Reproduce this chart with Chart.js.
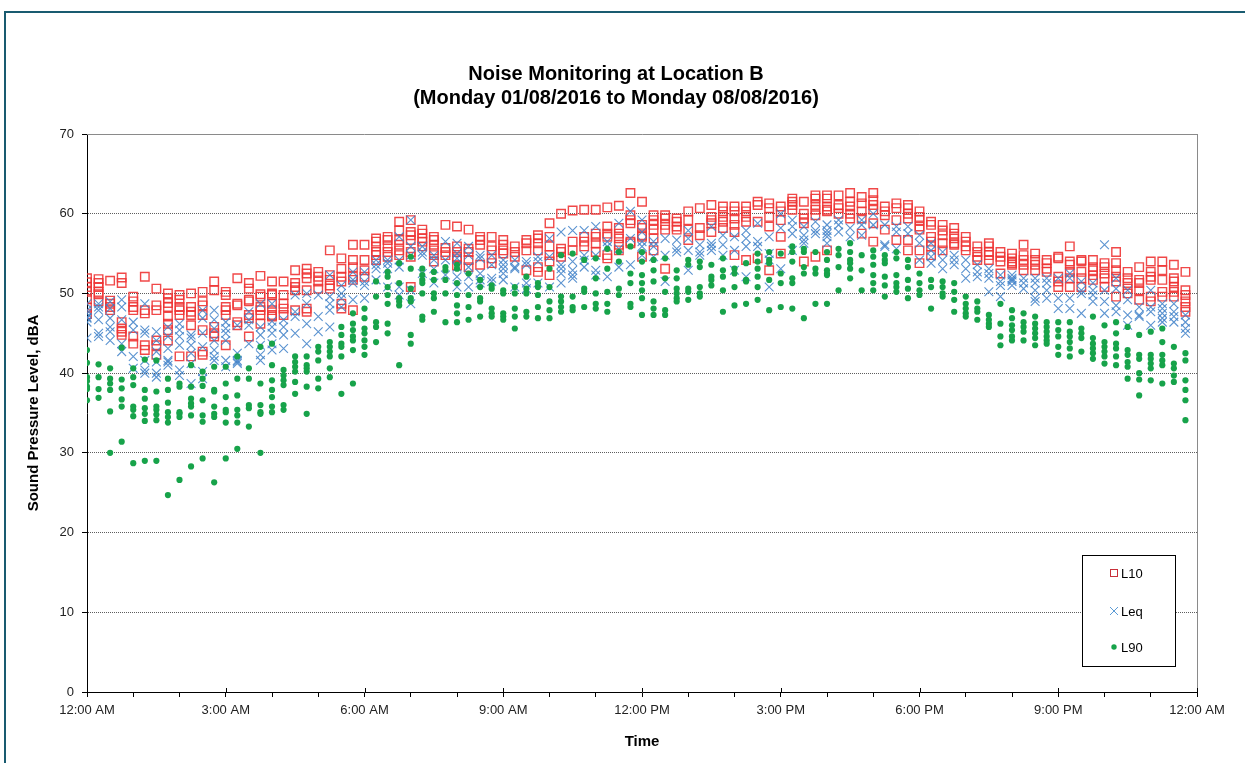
<!DOCTYPE html>
<html>
<head>
<meta charset="utf-8">
<script src="https://cdn.jsdelivr.net/npm/chart.js@4.4.1/dist/chart.umd.min.js"></script>
<style>
html,body{margin:0;padding:0;background:#fff;}
#wrap{position:relative;width:1245px;height:763px;overflow:hidden;background:#fff;}
#c{position:absolute;left:0;top:0;}
#frame{position:absolute;left:4px;top:11px;width:1400px;height:900px;border-top:2px solid #195b70;border-left:2px solid #195b70;pointer-events:none;}
</style>
</head>
<body>
<div id="wrap"><canvas id="c" width="1245" height="763"></canvas><div id="frame"></div></div>
<script>
// ---- data: one list of readings (one per day) for each 15-minute slot, 00:00 .. 23:45 ----
const titleLines = ['Noise Monitoring at Location B', '(Monday 01/08/2016 to Monday 08/08/2016)'];
const seriesNames = ['L10', 'Leq', 'L90'];
const slotHours = 0.25;
const hourTicks = [0,1,2,3,4,5,6,7,8,9,10,11,12,13,14,15,16,17,18,19,20,21,22,23,24];
const labelledHours = [0, 3, 6, 9, 12, 15, 18, 21, 24];
const timeLabels = ['12:00 AM','3:00 AM','6:00 AM','9:00 AM','12:00 PM','3:00 PM','6:00 PM','9:00 PM','12:00 AM'];
const yTicks = [0, 10, 20, 30, 40, 50, 60, 70];

const L10 = [
[51.9,51.4,50.8,50.2,49.3,48.2,47.4],[51.8,51.3,50.8,50.2,49.9,49.0],[51.6,49.1,48.7,48.3,47.9],[52.0,51.3,46.4,45.6,45.2,44.8],
[49.6,49.0,48.3,47.9,44.6,43.7],[52.1,47.9,47.5,43.5,42.9],[50.6,48.5,47.9,44.1,43.5,42.3],[50.0,49.4,48.8,48.3,47.1,46.2,45.4,44.1],
[49.8,49.2,48.3,47.9,47.3,42.1],[50.0,48.3,47.7,47.3,46.0,42.1],[50.2,49.0,48.5,47.3,45.4,42.7,42.3],[51.5,50.4,45.8,45.0,44.6],
[50.2,49.8,48.3,47.9,47.3,43.5],[51.9,48.7,48.5,46.4,46.0],[51.3,50.6,49.2,49.0,47.3,46.9,44.6],[52.2,49.9,49.6,48.3,47.9,47.3,46.2],
[51.5,50.0,49.8,48.7,47.9,47.3,47.1],[51.5,49.8,48.7,48.1,47.3],[52.9,51.3,50.8,50.4,47.9],[53.1,52.5,51.9,50.4,48.1,47.7],
[52.7,52.1,51.5,50.6],[55.4,52.3,51.7,51.0,50.6],[54.4,53.1,52.1,51.5,48.7,48.1],[56.1,54.2,53.3,52.1,51.7,47.9],
[56.1,54.2,52.9,52.1],[56.9,56.5,55.9,55.2,54.8,54.2],[57.1,56.7,55.9,55.2,54.6],[59.0,57.9,56.7,56.1,55.4,54.8],
[59.2,57.7,57.3,56.7,55.2,54.6,50.8],[58.0,57.5,56.9,56.5,55.9],[57.1,56.7,56.1,55.4,54.8,54.0],[58.6,55.7,55.2,54.8],
[58.4,55.9,55.2,54.6,54.4,53.5],[58.0,55.6,55.2,54.2,53.3],[57.1,56.7,56.1,53.6],[57.1,55.9,55.4,54.4,53.8],
[56.7,56.1,55.4,55.0],[55.9,55.2,54.6],[56.7,56.3,55.4,52.9],[57.3,56.9,56.3,55.4,53.3,52.7],
[58.8,57.1,55.9,54.8,54.0,52.3],[60.0,55.6,55.2,54.6],[60.4,56.5,55.4],[60.5,57.1,56.5,55.9],
[60.5,57.5,57.1,56.3,55.2],[60.8,58.4,57.5,57.1,54.8,54.4],[61.0,58.2,57.5,56.9,56.1,55.4],[62.6,59.8,59.2,58.8,56.5,56.3],
[61.5,58.6,58.2,57.3,57.1,54.6],[59.8,59.2,58.6,58.0,56.9,55.4],[59.8,59.4,58.6,58.0,53.1],[59.4,59.0,58.4,58.0],
[60.3,59.2,58.0,56.7],[60.7,58.2,57.3],[61.1,59.6,59.2,58.8,57.7],[60.9,60.3,59.6,59.0,58.2],
[60.9,60.3,59.4,58.6,57.7,54.8],[60.9,60.3,59.6,59.0,54.2],[61.5,61.1,59.0,54.4],[61.3,60.7,59.6,58.4,52.9],
[60.9,60.3,59.2,57.1,55.0],[61.9,61.5,61.1,60.5],[61.5,60.0,59.4,58.8,54.0],[62.3,61.9,61.1,60.5,59.8,54.6],
[62.3,61.9,60.9,60.5,60.3,55.4],[62.3,61.1,60.7,60.0],[62.6,61.5,60.9,60.0,59.4],[62.1,61.3,60.3,59.4,57.5],
[62.6,61.7,61.1,60.5,58.8,56.5],[60.9,60.3,59.8,58.0],[61.3,60.7,59.2,56.7],[61.1,60.7,60.0,59.4,56.7,55.4],
[60.3,59.6,59.2,58.4,58.0,55.4,53.8],[59.0,58.6,57.1,56.5,55.9,54.8],[58.6,57.9,57.3,56.3,55.4],[58.2,57.5,56.9,56.3,56.1],
[57.1,56.5,55.9,55.4],[55.9,55.2,54.6,54.2],[56.3,55.9,55.2,54.8,54.2],[55.2,54.6,54.0,52.5],
[55.0,54.4,54.0,53.6,53.8],[56.1,54.8,54.2,53.6,52.9],[55.0,54.2,53.6,52.9],[54.2,53.8,53.1,52.7],
[54.6,54.4,52.1,51.5,50.8],[55.9,54.0,53.6,52.7,51.9,50.8],[54.2,54.0,52.7,51.9,50.8],[54.2,53.3,52.9,52.3,51.7],
[53.8,53.3,52.5,51.9,50.8],[55.2,53.8,52.9,52.1,51.5,49.6],[52.7,51.9,51.3,50.6,50.0],[53.3,51.7,51.3,50.4,49.2],
[54.0,52.7,52.1,51.7,49.6,49.0],[54.0,52.9,51.7,50.2,49.6],[53.6,51.9,51.5,50.8,50.2,49.6],[52.7,50.4,49.8,49.0,48.3,47.7]
];

const Leq = [
[48.7,47.9,47.5,47.0,46.9,46.4,44.4],[48.7,48.3,47.9,46.7,45.0,44.6],[49.0,48.1,46.9,45.8,45.2,44.1],[49.2,48.3,46.7,43.7,42.7],
[46.4,45.4,42.1,40.6],[48.7,45.4,45.0,41.6,40.4,40.0],[45.2,44.1,42.7,41.4,40.0,39.5],[45.8,44.6,43.1,41.6,41.4,41.0],
[46.2,45.4,44.6,43.5,40.4,39.7],[44.8,44.4,43.5,42.5,41.2,38.7],[47.9,46.9,45.0,43.3,40.2,39.3],[47.9,46.7,45.6,44.1,42.9,42.1,41.6],
[46.4,45.6,45.0,44.1,41.6,40.8],[46.0,42.5,41.6,41.4,41.2],[47.7,46.7,46.0,43.7],[48.7,45.8,44.8,43.5,42.3,41.6],
[48.7,46.5,45.8,45.0,43.7,42.9],[46.7,45.8,44.8,43.1],[49.8,47.7,47.1,45.0],[50.0,48.7,46.2,43.7],
[49.8,47.1,45.2],[52.3,49.6,48.7,47.9,45.8],[51.0,50.0,49.4,48.3],[52.7,51.7,51.3,49.2],
[52.7,51.5,51.0,49.4],[54.2,53.6,53.1,51.7],[54.2,53.8,53.1,50.8],[57.1,54.2,53.3,50.8,49.8],
[59.2,55.9,54.8,50.4,48.7],[55.9,55.2,54.8,52.5],[54.8,54.2,53.1,51.3],[56.5,54.2,52.3],
[56.3,55.0,54.4,53.3,52.1,50.8],[55.9,54.8,53.3,52.1,50.8],[54.8,54.4,52.5,51.7,51.3],[54.8,53.6,51.9,51.5],
[54.2,53.6,53.1,52.5,51.7],[54.2,53.3,53.1,50.8],[54.0,53.6,51.3,50.6],[54.6,54.0,51.3],
[56.9,54.6,50.8],[57.7,53.6,53.1,52.5,51.3],[57.9,54.0,52.9,52.3,51.9],[57.9,54.8,54.2,53.3],
[58.4,54.8,52.9,52.3],[56.5,55.9,52.1],[58.8,55.6,53.3],[60.3,56.9,53.6],
[59.2,57.7,56.5,55.9,54.8],[56.5,55.9,54.6],[56.9,54.8,51.5],[56.7,55.6,55.2],
[57.9,56.9,55.4,52.9],[56.1,55.2,54.8],[58.4,56.3,55.9,55.4],[57.3,56.1,54.8],
[57.1,55.4,52.9],[57.9,56.9,55.9,52.1],[58.8,56.5,55.9],[57.1,55.0,54.2,50.8],
[60.0,58.2,53.1],[59.2,58.4,57.5,55.4],[58.4,57.3,56.7,56.3],[59.0,57.9,57.5],
[58.6,57.9,57.5,57.1,56.3],[59.2,58.6,57.7],[58.2,57.1],[59.2,58.6,57.3],
[60.0,58.6],[58.6,56.1,55.9],[58.4,57.7,55.6],[58.4,57.5],
[57.3,56.3,54.2],[56.3,55.4,54.6,53.8],[55.2,54.2,53.1],[54.8,54.2,53.6],
[54.2,53.1,51.9],[53.6,52.7,52.1],[53.1,52.5,51.9,50.2],[52.3,51.5,51.0,49.6],
[52.3,51.9,51.7,51.5,51.0],[51.9,51.3,50.6],[51.9,51.3,50.4,49.4,49.0],[51.9,51.3,50.4,49.4],
[51.9,49.4,48.1],[52.5,51.9,49.4,48.1],[51.5,50.4,50.0,47.5],[51.3,50.4,49.8,49.0],
[56.1,50.4,49.0,47.5],[51.9,50.6,48.5,47.7],[50.4,49.2,47.3,46.0],[48.3,47.3,47.1],
[50.4,48.3,47.7,46.0],[48.7,48.1,47.5,46.9,46.4],[48.7,47.7,47.1,46.4],[47.3,46.4,45.6,45.0]
];

const L90 = [
[42.9,41.3,39.5,39.0,38.3,38.0,36.6],[41.1,39.5,38.0,36.9],[40.6,39.3,38.7,37.9,35.2,30.0],[43.2,39.2,38.1,36.7,35.8,31.4],
[40.6,39.5,38.5,35.8,35.4,34.6,28.7],[41.7,37.9,36.8,35.6,34.9,34.0,29.0],[41.6,37.7,35.8,35.4,34.8,34.1,29.0],[39.3,37.9,36.3,35.1,34.5,33.8,24.7],
[38.7,38.3,35.1,34.9,34.5,26.6],[41.0,38.3,36.8,36.2,35.8,34.7,28.3],[40.2,39.3,38.4,36.6,34.7,33.9,29.3],[40.8,37.9,37.7,35.8,34.9,34.5,26.3],
[40.8,38.7,37.0,35.4,35.1,33.8,29.3],[42.1,39.3,37.2,35.4,34.7,33.8,30.5],[40.6,39.3,36.0,35.6,33.3],[43.3,38.7,36.0,35.1,34.9,30.0],
[43.7,41.0,39.1,37.9,37.0,35.8,35.1],[40.4,39.7,39.1,38.5,36.0,35.4],[42.1,41.4,40.8,40.2,38.9,37.4],[42.1,41.0,40.6,40.2,38.3,34.9],
[43.3,42.7,41.6,39.3,38.1],[43.9,43.3,42.7,42.1,40.6,39.5],[45.8,44.8,43.7,43.3,42.1,37.4],[47.5,46.2,45.4,44.6,44.1,42.9,38.7],
[48.1,46.9,45.6,45.0,44.1,43.3,42.3],[51.5,49.6,46.4,45.8,43.9],[52.7,52.1,50.8,49.8,48.7,46.2,45.0],[53.8,51.3,49.4,49.0,48.5,41.0],
[54.6,53.1,50.6,49.4,49.0,44.8,43.7],[53.1,52.3,51.7,51.3,50.0,47.1,46.7],[52.7,51.7,50.0,49.4,47.7],[53.3,52.9,51.7,50.0,46.4],
[53.6,53.1,51.3,49.8,48.5,47.5,46.4],[52.5,49.8,48.3,46.7],[51.7,50.8,49.4,49.0,47.1],[51.0,50.6,48.1,47.5,47.1],
[50.4,50.0,47.5,47.1,46.7],[50.8,50.0,48.1,47.1,45.6],[52.1,50.6,50.0,47.7,47.1],[51.3,50.8,49.8,48.3,46.9],
[53.1,50.8,49.0,47.9,46.9],[54.8,49.6,49.0,48.3,47.7],[55.0,49.6,48.3,47.9],[54.2,50.6,50.2,48.3],
[54.4,51.9,50.0,48.7,48.1],[55.6,53.1,50.2,48.7,47.7],[55.2,54.0,50.6,49.8],[55.9,52.5,51.3,48.7,48.3],
[55.2,54.0,52.3,51.3,50.4,49.4,47.3],[54.2,52.9,51.5,49.0,48.1,47.3],[54.4,51.9,50.2,47.9,47.3],[52.9,51.9,50.6,50.0,49.4,49.0],
[54.2,53.6,50.6,50.2,49.2],[54.0,53.3,50.8,50.0,49.6],[53.6,52.1,51.7,51.0],[54.4,52.9,52.1,50.4,47.7],
[53.1,52.5,50.8,48.5],[53.8,51.7,51.5,48.7],[55.0,54.0,53.1,52.1,50.8,49.2],[55.2,54.2,53.8,51.7,47.9],
[55.0,52.5,51.3,48.3],[55.9,55.2,54.0,51.9,51.3,48.1],[55.6,55.2,53.3,52.5,46.9],[55.2,53.1,52.5,48.7],
[55.2,54.2,52.9,52.5,52.3,48.7],[55.6,54.8,53.3,50.4],[56.3,55.2,54.2,53.8,53.1,51.9],[54.8,52.9,50.4],
[55.4,54.6,53.6,52.3,51.3,50.4],[54.8,54.2,53.8,52.1,51.0,49.6],[55.2,54.4,52.3,51.3,50.8,50.2],[54.2,53.3,51.7,50.6,49.4],
[52.5,51.3,50.4,49.8],[51.7,50.8,48.1],[51.5,50.8,50.0,49.6],[51.3,50.2,49.2,47.7],
[49.6,48.7,48.1,47.5,47.1],[49.0,48.1,47.7,46.7],[47.3,46.7,46.2,45.8],[48.7,46.2,44.6,43.5],
[47.9,46.9,46.0,45.4,44.6,44.1],[47.5,46.4,45.8,45.2,44.1],[47.1,46.2,45.6,45.0,44.4,43.5],[46.4,45.8,45.2,44.6,44.1,43.7],
[46.4,45.4,44.6,43.3,42.3],[46.4,45.2,44.6,43.9,43.1,42.1],[45.6,45.0,44.4,42.7],[47.1,44.4,43.7,43.1,42.5,41.8],
[46.0,43.9,43.3,42.7,42.1,41.2],[46.4,45.0,43.7,43.1,42.1,41.0],[45.8,42.9,42.3,41.4,40.8,39.3],[44.8,42.3,41.8,40.0,39.2,37.2],
[45.2,42.3,41.8,41.2,40.6,39.1],[45.6,43.9,42.3,41.6,41.0,38.7],[43.3,41.2,40.6,39.7,38.9],[42.5,41.6,39.1,37.9,36.6,34.1]
];

// ---- build scatter points from the slot lists ----
function toPoints(slots) {
  const pts = [];
  slots.forEach((vals, k) => vals.forEach(v => pts.push({ x: k * slotHours, y: v })));
  return pts;
}

const FONT = "'Liberation Sans', Arial, Helvetica, sans-serif";
Chart.defaults.font.family = FONT;

const styles = [
  { pointStyle: 'rect', pointRadius: 6, borderColor: 'rgba(238,52,52,0.9)', backgroundColor: 'rgba(255,255,255,0)', borderWidth: 1.4, order: 2 },
  { pointStyle: 'crossRot', pointRadius: 6.2, borderColor: 'rgba(62,128,200,0.85)', backgroundColor: 'rgba(62,128,200,0.85)', borderWidth: 1.1, order: 1 },
  { pointStyle: 'circle', pointRadius: 3.1, borderColor: '#17a34a', backgroundColor: '#17a34a', borderWidth: 0, order: 0 }
];
const seriesData = [L10, Leq, L90];

const decor = {
  id: 'decor',
  afterLayout(chart) {
    // centre the title a little further right, as in the original
    if (chart.titleBlock) { chart.titleBlock.left += 35; }
  },
  beforeDatasetsDraw(chart) {
    const { ctx, chartArea: a, scales: { x } } = chart;
    ctx.save();
    ctx.strokeStyle = '#8a8a8a';
    ctx.lineWidth = 1;
    ctx.beginPath();
    ctx.moveTo(a.left, a.top + 0.5); ctx.lineTo(a.right + 0.5, a.top + 0.5);
    ctx.moveTo(a.right + 0.5, a.top); ctx.lineTo(a.right + 0.5, a.bottom);
    ctx.stroke();
    ctx.strokeStyle = '#000';
    ctx.beginPath();
    labelledHours.forEach(h => {
      const px = Math.round(x.getPixelForValue(h)) + 0.5;
      ctx.moveTo(px, a.bottom - 4); ctx.lineTo(px, a.bottom);
    });
    ctx.stroke();
    ctx.restore();
  },
  afterDraw(chart) {
    const { ctx } = chart;
    const bx = 1082.5, by = 555.5, bw = 93, bh = 111;
    ctx.save();
    ctx.fillStyle = '#fff';
    ctx.fillRect(bx, by, bw, bh);
    ctx.strokeStyle = '#000';
    ctx.lineWidth = 1;
    ctx.strokeRect(bx, by, bw, bh);
    const rowsY = [573, 611, 647];
    const mx = 1114;
    ctx.font = '13px ' + FONT;
    ctx.fillStyle = '#000';
    ctx.textBaseline = 'middle';
    ctx.textAlign = 'left';
    seriesNames.forEach((name, i) => {
      const y = rowsY[i];
      ctx.beginPath();
      if (i === 0) {
        ctx.strokeStyle = '#c8303a'; ctx.lineWidth = 1;
        ctx.strokeRect(mx - 3.5, y - 3.5, 7, 7);
      } else if (i === 1) {
        ctx.strokeStyle = '#5b9bd5'; ctx.lineWidth = 1;
        ctx.moveTo(mx - 4, y - 4); ctx.lineTo(mx + 4, y + 4);
        ctx.moveTo(mx + 4, y - 4); ctx.lineTo(mx - 4, y + 4);
        ctx.stroke();
      } else {
        ctx.fillStyle = '#17a34a';
        ctx.arc(mx, y, 2.7, 0, Math.PI * 2);
        ctx.fill();
        ctx.fillStyle = '#000';
      }
      ctx.fillText(name, mx + 7, y + 1);
    });
    ctx.restore();
  }
};

new Chart(document.getElementById('c'), {
  type: 'scatter',
  data: {
    datasets: seriesNames.map((name, i) => Object.assign({ label: name, data: toPoints(seriesData[i]), pointHoverRadius: styles[i].pointRadius }, styles[i]))
  },
  options: {
    responsive: false,
    animation: false,
    devicePixelRatio: 1,
    events: [],
    layout: { padding: { left: 0, right: 48, top: 0, bottom: 0 } },
    plugins: {
      legend: { display: false },
      tooltip: { enabled: false },
      title: {
        display: true,
        text: titleLines,
        color: '#000',
        font: { family: FONT, size: 20, weight: 'bold', lineHeight: 1.2 },
        padding: { top: 62, bottom: 24 }
      }
    },
    scales: {
      x: {
        type: 'linear', min: 0, max: 24,
        afterBuildTicks(s) { s.ticks = hourTicks.map(v => ({ value: v })); },
        afterFit(s) { s.height = 71; },
        ticks: {
          autoSkip: false, maxRotation: 0, padding: 6, color: '#222',
          font: { family: FONT, size: 13 },
          callback(v) { const i = labelledHours.indexOf(v); return i >= 0 ? timeLabels[i] : ''; }
        },
        grid: { drawOnChartArea: false, drawTicks: true, tickLength: 5, color: '#000', tickColor: '#000' },
        border: { color: '#000', width: 1 },
        title: { display: true, text: 'Time', color: '#000', font: { family: FONT, size: 15, weight: 'bold' }, padding: { top: 10, bottom: 12 } }
      },
      y: {
        min: 0, max: 70,
        afterBuildTicks(s) { s.ticks = yTicks.map(v => ({ value: v })); },
        afterFit(s) { s.width = 87; },
        ticks: { padding: 8, color: '#222', font: { family: FONT, size: 13 } },
        grid: {
          color: c => (c.tick && (c.tick.value === 0 || c.tick.value === 70)) ? 'rgba(0,0,0,0)' : '#5e5e5e',
          tickColor: '#000', tickLength: 5, drawTicks: true
        },
        border: { color: '#000', width: 1, dash: [1, 1] },
        title: { display: true, text: 'Sound Pressure Level, dBA', color: '#000', font: { family: FONT, size: 15, weight: 'bold' }, padding: { top: 25, bottom: 0 } }
      }
    }
  },
  plugins: [decor]
});
</script>
</body>
</html>
